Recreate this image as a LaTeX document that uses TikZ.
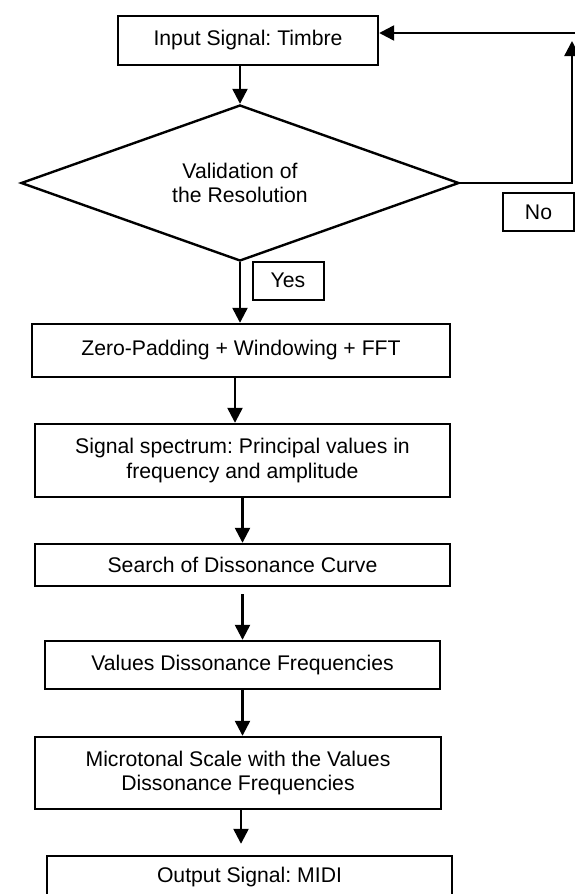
\documentclass[tikz,border=0pt]{standalone}
\usepackage{fontspec}
\setmainfont{Liberation Sans}
\usepackage{tikz}
\usetikzlibrary{positioning, arrows.meta, shapes.geometric}
\frenchspacing

\begin{document}
\begin{tikzpicture}[
    x=1pt, y=-1pt,
    font=\fontsize{21.2}{24.3}\selectfont,
    box/.style={draw, line width=2.4pt, align=center, inner sep=0pt},
    tagbox/.style={draw, line width=2pt, inner sep=0pt, minimum width=71pt, minimum height=38pt},
    arr/.style={-{Triangle[length=15pt, width=15pt]}, line width=2.4pt}
  ]
    \useasboundingbox (0,0) rectangle (575,894);

    \node[box, minimum width=260pt, minimum height=49pt] (input) at (248,40.5) {Input Signal: Timbre};
    \node[box, diamond, aspect=2.78, minimum width=438pt, minimum height=156pt] (valid) at (240,183) {Validation of\\the Resolution};
    \node[box, minimum width=418pt, minimum height=53pt] (zeropad) at (241,350.5) {Zero-Padding + Windowing + FFT};
    \node[box, minimum width=415pt, minimum height=73pt] (spectrum) at (242.5,460.5) {Signal spectrum: Principal values in\\frequency and amplitude};
    \node[box, minimum width=415pt, minimum height=42pt] (search) at (242.5,565) {Search of Dissonance Curve};
    \node[box, minimum width=395pt, minimum height=48pt] (dissfreq) at (242.5,665) {Values Dissonance Frequencies};
    \node[box, minimum width=406pt, minimum height=72pt] (microscale) at (238,773) {Microtonal Scale with the Values\\Dissonance Frequencies};
    \node[box, minimum width=405pt, minimum height=42pt] (output) at (249.5,877) {Output Signal: MIDI};

    \node[tagbox] (no) at (538.5,212) {No};
    \node[tagbox] (yes) at (288,280.5) {Yes};

    % feedback loop
    \coordinate (loopdown) at (572,183);
    \coordinate (looptop) at (572,41);
    \coordinate (loopin) at (576,33);

    \draw[arr] (valid.north |- input.south) -- (valid.north);
    \draw[arr] (valid.east) -- (loopdown) -- (looptop);
    \draw[arr] (loopin) -- (input.east |- loopin);
    \draw[arr] (valid.south) -- (valid.south |- zeropad.north);
    \draw[arr] ([xshift=-6pt]zeropad.south) -- ([xshift=-6pt]zeropad.south |- spectrum.north);
    \draw[arr] (spectrum.south) -- (search.north);
    \draw[arr, shorten <=7pt] (search.south) -- (dissfreq.north);
    \draw[arr] (dissfreq.south) -- (dissfreq.south |- microscale.north);
    \draw[arr, shorten >=11pt] ([xshift=3pt]microscale.south) -- ([xshift=3pt]microscale.south |- output.north);
  \end{tikzpicture}
\end{document}
